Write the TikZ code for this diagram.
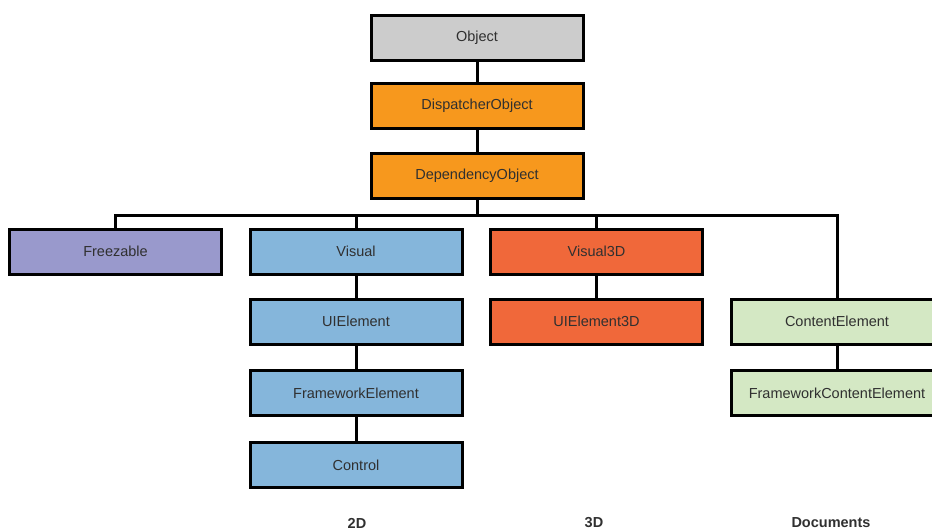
\documentclass[tikz,border=0pt]{standalone}
\usepackage{fontspec}
\setmainfont{Liberation Sans}
\definecolor{cgray}{HTML}{CCCCCC}
\definecolor{corange}{HTML}{F7981D}
\definecolor{cpurple}{HTML}{9999CC}
\definecolor{cblue}{HTML}{85B6DB}
\definecolor{cred}{HTML}{F0683A}
\definecolor{cgreen}{HTML}{D4E8C4}
\definecolor{ctext}{HTML}{303030}
\begin{document}
\begin{tikzpicture}[x=1pt,y=-1pt,
  classbox/.style={draw=black, line width=3pt, minimum width=212pt, minimum height=45pt,
    inner sep=0pt, text=ctext, font=\fontsize{14.5}{17}\selectfont},
  conn/.style={draw=black, line width=3pt, line cap=rect},
  grouplabel/.style={font=\bfseries\fontsize{14.5}{17}\selectfont, text=ctext, inner sep=0pt}]
\useasboundingbox (0,0) rectangle (932,531);
\node[classbox, fill=cgray]   (obj)  at (477,37.5)  {Object};
\node[classbox, fill=corange] (disp) at (477,105.5) {DispatcherObject};
\node[classbox, fill=corange] (dep)  at (477,175.5) {DependencyObject};
\node[classbox, fill=cpurple] (frz)  at (115.5,251.5) {Freezable};
\node[classbox, fill=cblue]   (vis)  at (356,251.5) {Visual};
\node[classbox, fill=cblue]   (uie)  at (356,321.5) {UIElement};
\node[classbox, fill=cblue]   (fwe)  at (356,393)   {FrameworkElement};
\node[classbox, fill=cblue]   (ctl)  at (356,465)   {Control};
\node[classbox, fill=cred]    (v3d)  at (596.5,251.5) {Visual3D};
\node[classbox, fill=cred]    (u3d)  at (596.5,321.5) {UIElement3D};
\node[classbox, fill=cgreen]  (ce)   at (837,321.5) {ContentElement};
\node[classbox, fill=cgreen]  (fce)  at (837,393)   {FrameworkContentElement};
\coordinate (bus) at (0,215);
\draw[conn] (obj.south) -- (disp.north);
\draw[conn] (disp.south) -- (dep.north);
\draw[conn] (dep.south) -- (dep.south |- bus);
\draw[conn, line cap=butt] (frz.north) -- (frz.north |- bus) -- (ce.north |- bus) -- (ce.north);
\draw[conn] (vis.north) -- (vis.north |- bus);
\draw[conn] (v3d.north) -- (v3d.north |- bus);
\draw[conn] (vis.south) -- (uie.north);
\draw[conn] (uie.south) -- (fwe.north);
\draw[conn] (fwe.south) -- (ctl.north);
\draw[conn] (v3d.south) -- (u3d.north);
\draw[conn] (ce.south) -- (fce.north);
\node[grouplabel] (l2d) at (357,523) {2D};
\node[grouplabel] (l3d) at (594,523) {3D};
\node[grouplabel] (ldoc) at (831,523) {Documents};
\end{tikzpicture}
\end{document}
